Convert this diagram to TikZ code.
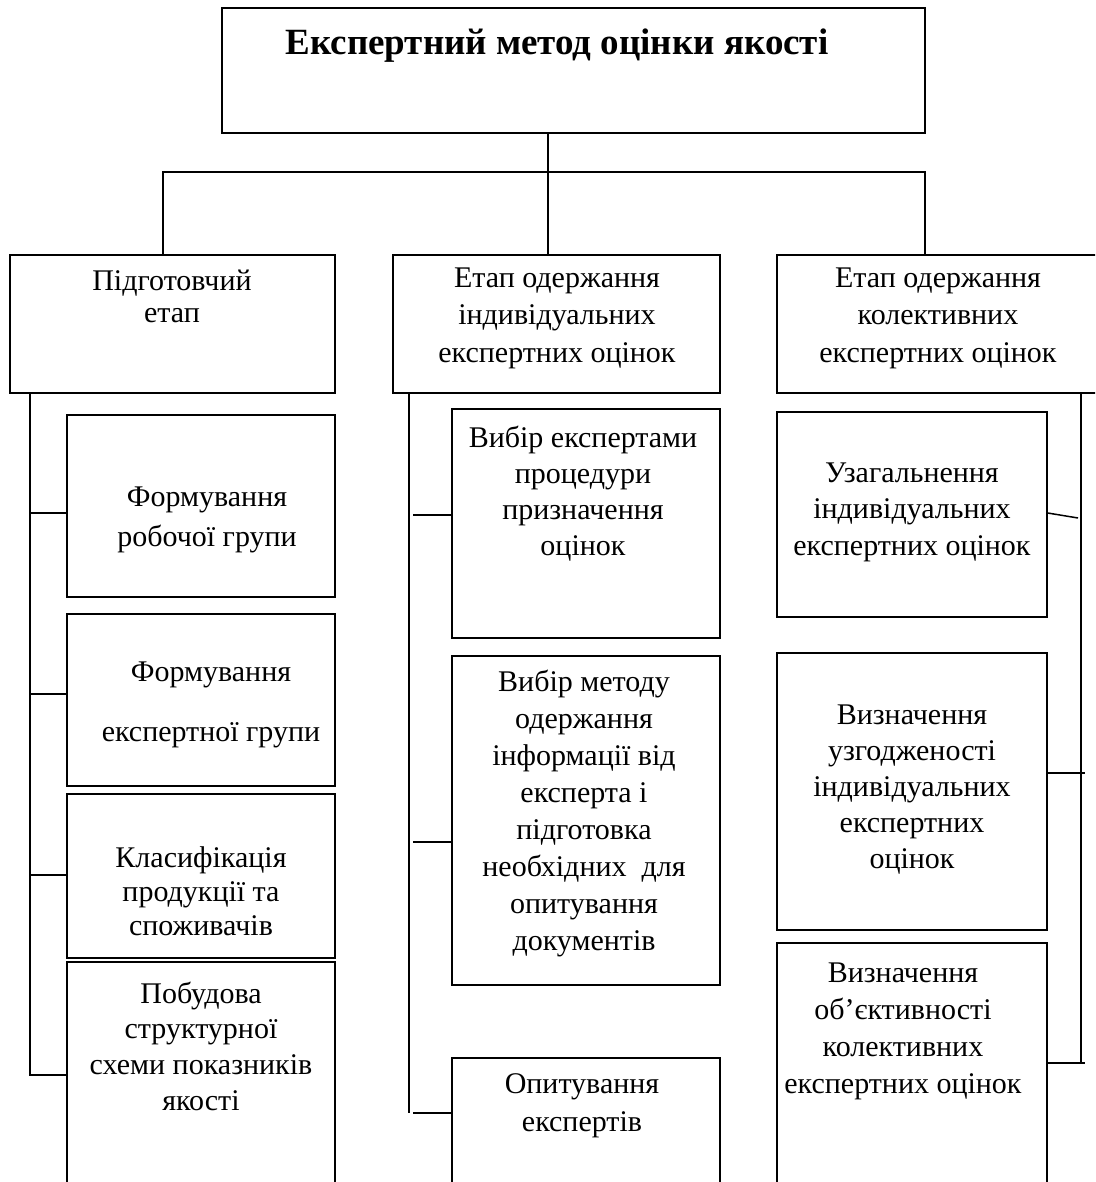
\documentclass[tikz,border=0pt]{standalone}
\usepackage{fontspec}
\setmainfont{Liberation Serif}
\newcommand\boxat[5]{\node[box, minimum width={#4-#2}, minimum height={#5-#3}] (#1) at ({(#2+#4)/2},{(#3+#5)/2}) {};}
\begin{document}
\begin{tikzpicture}[x=1pt,y=-1pt,
  box/.style={draw, rectangle, inner sep=0pt, line width=1.5pt},
  txt/.style={align=center, inner sep=0pt, font=\fontsize{30}{#1}\selectfont},
  wire/.style={line width=1.5pt}]
\useasboundingbox (0,0) rectangle (1095,1182);
\clip (0,0) rectangle (1095,1182);
% boxes
\boxat{top}{222}{8}{925}{133}
\boxat{pA}{10}{255}{335}{393}
\boxat{pB}{393}{255}{720}{393}
\boxat{pC}{777}{255}{1100}{393}
\boxat{a1}{67}{415}{335}{597}
\boxat{a2}{67}{614}{335}{786}
\boxat{a3}{67}{794}{335}{958}
\boxat{a4}{67}{962}{335}{1190}
\boxat{b1}{452}{409}{720}{638}
\boxat{b2}{452}{656}{720}{985}
\boxat{b3}{452}{1058}{720}{1190}
\boxat{c1}{777}{412}{1047}{617}
\boxat{c2}{777}{653}{1047}{930}
\boxat{c3}{777}{943}{1047}{1190}
% texts
\node[inner sep=0pt, font=\bfseries\fontsize{37}{40}\selectfont] (ttop) at (557,46) {Експертний метод оцінки якості};
\node[txt=32] (tA) at (172,296) {Підготовчий\\етап};
\node[txt=37.5] (tB) at (557,318) {Етап одержання\\індивідуальних\\експертних оцінок};
\node[txt=37.5] (tC) at (938,318) {Етап одержання\\колективних\\експертних оцінок};
\node[txt=40] (ta1) at (207,520) {Формування\\робочої групи};
\node[txt=60] (ta2) at (211,705) {Формування\\експертної групи};
\node[txt=34] (ta3) at (201,891) {Класифікація\\продукції та\\споживачів};
\node[txt=35.7] (ta4) at (201,1046) {Побудова\\структурної\\схеми показників\\якості};
\node[txt=36] (tb1) at (583,494) {Вибір експертами\\процедури\\призначення\\оцінок};
\node[txt=37] (tb2) at (584,813) {Вибір методу\\одержання\\інформації від\\експерта і\\підготовка\\необхідних~ для\\опитування\\документів};
\node[txt=38] (tb3) at (582,1106) {Опитування\\експертів};
\node[txt=36.5] (tc1) at (912,512) {Узагальнення\\індивідуальних\\експертних оцінок};
\node[txt=36] (tc2) at (912,790) {Визначення\\узгодженості\\індивідуальних\\експертних\\оцінок};
\node[txt=37] (tc3) at (903,1031) {Визначення\\об’єктивності\\колективних\\експертних оцінок};
% top connectors
\coordinate (hL) at (163,172);
\coordinate (hM) at (548,172);
\coordinate (hR) at (925,172);
\draw[wire] (top.south -| hM) -- (hM) -- (pB.north -| hM);
\draw[wire] (pA.north -| hL) -- (hL) -- (hR) -- (pC.north -| hR);
% left bus
\coordinate (la1) at (30,513);
\coordinate (la2) at (30,694);
\coordinate (la3) at (30,875);
\coordinate (la4) at (30,1075);
\draw[wire] (pA.south -| la4) -- (la4) -- (a4.west |- la4);
\draw[wire] (la1) -- (a1.west |- la1);
\draw[wire] (la2) -- (a2.west |- la2);
\draw[wire] (la3) -- (a3.west |- la3);
% middle bus
\coordinate (mb) at (409,1113);
\coordinate (mb1) at (413,515);
\coordinate (mb2) at (413,842);
\coordinate (mb3) at (413,1113);
\draw[wire] (pB.south -| mb) -- (mb);
\draw[wire] (mb1) -- (b1.west |- mb1);
\draw[wire] (mb2) -- (b2.west |- mb2);
\draw[wire] (mb3) -- (b3.west |- mb3);
% right bus
\coordinate (rb) at (1081,1063);
\coordinate (rb1) at (1078,518);
\coordinate (rb2) at (1085,773);
\coordinate (rb3) at (1085,1063);
\draw[wire] (pC.south -| rb) -- (rb);
\draw[wire] (c1.east |- 0,513) -- (rb1);
\draw[wire] (c2.east |- rb2) -- (rb2);
\draw[wire] (c3.east |- rb3) -- (rb3);
\end{tikzpicture}
\end{document}
